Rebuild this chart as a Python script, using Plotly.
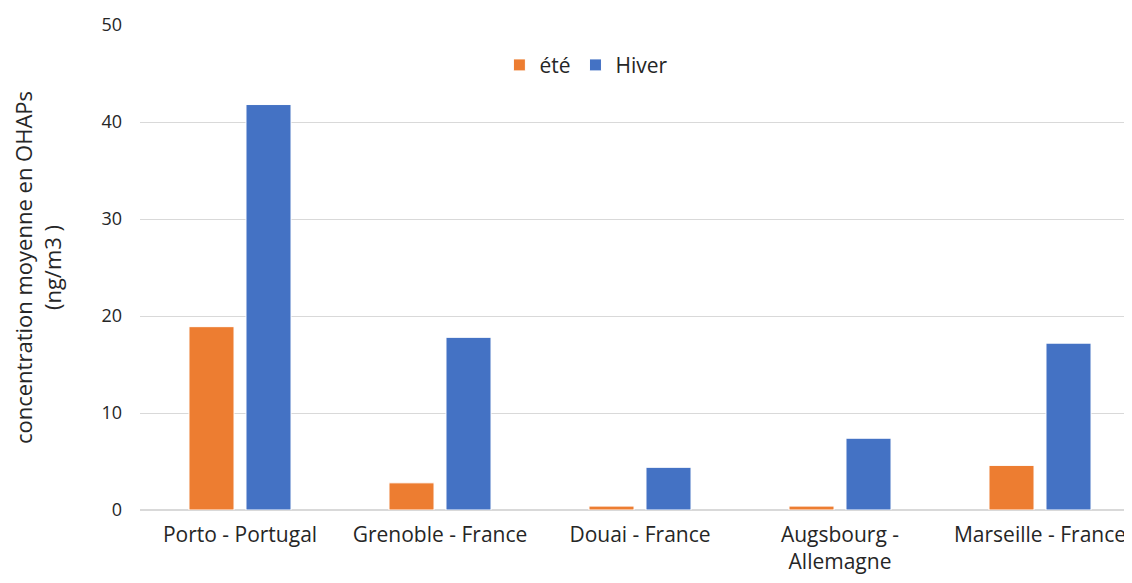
import plotly.graph_objects as go

categories = ["Porto - Portugal", "Grenoble - France", "Douai - France", "Augsbourg -<br>Allemagne", "Marseille - France"]
ete = [18.9, 2.8, 0.4, 0.4, 4.6]
hiver = [41.8, 17.8, 4.4, 7.4, 17.2]

fig = go.Figure()
fig.add_trace(go.Bar(name="été", x=categories, y=ete, marker=dict(color="#ED7D31", line=dict(color="white", width=1))))
fig.add_trace(go.Bar(name="Hiver", x=categories, y=hiver, marker=dict(color="#4472C4", line=dict(color="white", width=1))))

fig.update_layout(
    width=1124, height=575,
    margin=dict(l=132, r=0, t=17, b=73),
    plot_bgcolor="white", paper_bgcolor="white",
    barmode="group", bargap=0.43, bargroupgap=0.21,
    font=dict(family="Open Sans, Liberation Sans, sans-serif", size=18, color="#262626"),
    legend=dict(orientation="h", x=0.45, xanchor="center", y=0.917, yanchor="middle",
                font=dict(size=21), itemwidth=30, traceorder="normal"),
    showlegend=True,
)
fig.update_yaxes(range=[0, 50], dtick=10, showgrid=True, gridcolor="#D9D9D9", gridwidth=1,
                 zeroline=True, zerolinecolor="#D9D9D9", ticks="", ticklabelstandoff=17,
                 title=dict(text="concentration moyenne en OHAPs<br>(ng/m3 )", standoff=40, font=dict(size=22)),
                 tickfont=dict(size=18))
fig.update_xaxes(showline=False, ticks="", tickfont=dict(size=21), tickangle=0, ticklabelstandoff=10,
                 range=[-0.5, 4.46])

fig.write_html("out.html")
